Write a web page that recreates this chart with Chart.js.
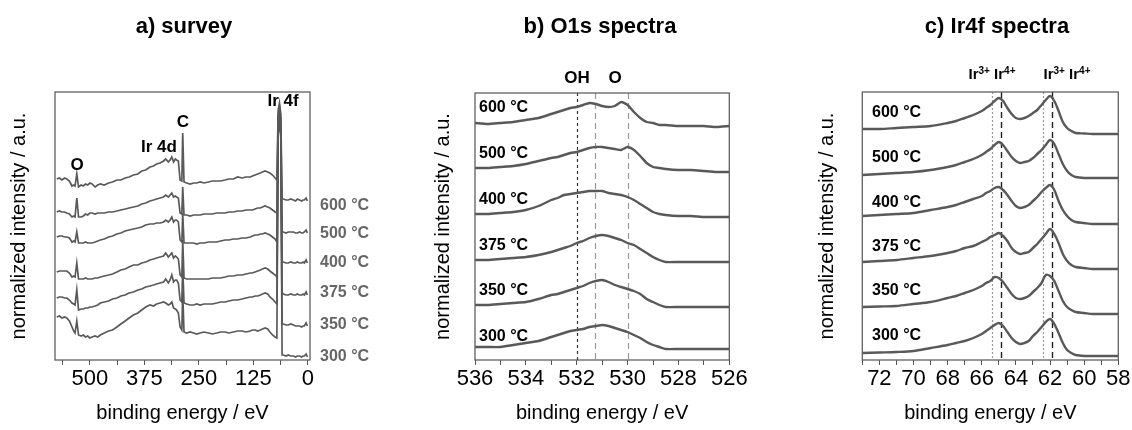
<!DOCTYPE html>
<html>
<head>
<meta charset="utf-8">
<script src="https://cdn.jsdelivr.net/npm/chart.js"></script>
<style>
  html, body { margin: 0; padding: 0; background: #fff; }
  body { width: 1132px; height: 430px; position: relative; overflow: hidden; }
  canvas { position: absolute; top: 0; }
</style>
</head>
<body>
<canvas id="survey" width="380" height="430" style="left:0;width:380px;height:430px"></canvas>
<canvas id="o1s" width="380" height="430" style="left:380px;width:380px;height:430px"></canvas>
<canvas id="ir4f" width="372" height="430" style="left:760px;width:372px;height:430px"></canvas>
<script>
// annealing temperatures, top trace first
const temps = ['600 \u00b0C', '500 \u00b0C', '400 \u00b0C', '375 \u00b0C', '350 \u00b0C', '300 \u00b0C'];

// ---- a) survey (binding energy in eV, stacked intensities in a.u.)
const surveyEnergy = [576, 570, 564, 558, 553, 547, 541, 537, 534, 530, 526, 520, 515, 510, 505, 500, 495, 488, 482, 476,
  467, 457, 448, 438, 429, 419, 410, 400, 390, 381, 372, 362, 354, 347, 339, 331, 326, 320, 316, 312,
  308, 304, 301, 297, 293, 289, 287, 284, 278, 270, 262, 255, 247, 238, 228, 219, 209, 200, 190, 181,
  171, 161, 151, 142, 132, 127, 121, 115, 109, 104, 98, 92, 87, 81, 75, 71, 68, 65, 62, 59,
  56, 50, 45, 39, 33, 28, 24, 19, 14, 11, 8, 4, 1];
const survey600 = [18.1, 18.2, 18.0, 18.2, 18.1, 17.9, 17.4, 17.5, 17.4, 18.6, 17.3, 17.5, 17.4, 17.6, 17.5, 17.7, 17.6, 17.3, 17.5, 17.6,
  17.5, 17.7, 17.8, 18.0, 18.0, 18.2, 18.3, 18.5, 18.6, 18.9, 19.0, 19.3, 19.4, 19.6, 19.7, 19.9, 20.1, 19.8, 20.0, 20.3,
  19.8, 20.1, 20.0, 19.9, 18.0, 17.9, 22.7, 17.8, 17.7, 17.6, 17.7, 17.7, 17.8, 17.7, 17.8, 17.9, 17.9, 17.9, 18.0, 18.1,
  18.1, 18.3, 18.2, 18.3, 18.3, 18.4, 18.5, 18.6, 18.7, 18.8, 18.9, 18.8, 18.7, 18.5, 18.2, 18.0, 25.0, 25.7, 24.6, 16.1,
  16.1, 16.0, 16.0, 16.1, 16.0, 15.9, 16.1, 16.0, 15.9, 16.0, 16.0, 16.2, 15.9];
const survey500 = [14.8, 14.9, 14.8, 14.8, 14.7, 14.6, 14.3, 14.4, 14.3, 16.2, 14.3, 14.3, 14.4, 14.6, 14.5, 14.7, 14.7, 14.6, 14.7, 14.7,
  14.7, 14.8, 14.8, 14.9, 15.0, 15.1, 15.2, 15.3, 15.4, 15.6, 15.7, 15.9, 16.0, 16.1, 16.2, 16.3, 16.5, 16.3, 16.5, 16.7,
  16.3, 16.4, 16.3, 16.2, 14.7, 14.6, 17.3, 14.5, 14.5, 14.4, 14.5, 14.5, 14.5, 14.6, 14.6, 14.6, 14.7, 14.7, 14.7, 14.8,
  14.8, 14.9, 14.9, 15.0, 15.0, 15.0, 15.1, 15.2, 15.2, 15.3, 15.4, 15.3, 15.2, 15.0, 14.8, 14.7, 24.6, 25.3, 24.2, 12.8,
  12.8, 12.7, 12.8, 12.8, 12.8, 12.7, 12.7, 12.8, 12.7, 12.7, 12.8, 13.0, 12.7];
const survey400 = [12.3, 12.4, 12.4, 12.3, 12.3, 12.2, 11.8, 11.9, 11.8, 12.8, 11.7, 11.7, 11.7, 11.8, 11.7, 11.7, 11.7, 11.8, 11.9, 12.0,
  12.1, 12.3, 12.4, 12.6, 12.7, 12.9, 13.0, 13.1, 13.2, 13.3, 13.5, 13.6, 13.6, 13.7, 13.7, 13.8, 14.0, 13.8, 14.0, 14.3,
  13.8, 14.0, 14.0, 13.8, 12.0, 11.8, 14.7, 11.7, 11.7, 11.7, 11.7, 11.6, 11.7, 11.7, 11.8, 11.8, 11.8, 11.9, 12.0, 12.0,
  12.1, 12.1, 12.2, 12.2, 12.3, 12.4, 12.5, 12.5, 12.6, 12.6, 12.7, 12.6, 12.5, 12.3, 12.1, 11.8, 24.2, 25.0, 23.8, 9.8,
  9.8, 9.7, 9.7, 9.8, 9.7, 9.7, 9.8, 9.7, 9.7, 9.8, 9.7, 10.0, 9.7];
const survey375 = [8.8, 8.9, 8.9, 8.9, 8.9, 8.7, 8.3, 8.4, 8.3, 9.7, 8.1, 8.1, 8.1, 8.2, 8.1, 8.1, 8.1, 8.2, 8.2, 8.3,
  8.4, 8.5, 8.6, 8.8, 9.0, 9.1, 9.3, 9.5, 9.5, 9.7, 9.8, 10.0, 10.1, 10.2, 10.3, 10.4, 10.7, 10.3, 10.5, 10.7,
  10.2, 10.4, 10.3, 10.1, 8.5, 8.3, 12.0, 8.2, 8.1, 8.1, 8.1, 8.1, 8.1, 8.1, 8.1, 8.2, 8.2, 8.2, 8.3, 8.4,
  8.4, 8.5, 8.5, 8.6, 8.7, 8.7, 8.8, 8.9, 9.0, 9.1, 9.2, 9.1, 8.9, 8.7, 8.5, 8.3, 23.7, 24.5, 23.3, 6.7,
  6.6, 6.5, 6.5, 6.6, 6.5, 6.5, 6.6, 6.5, 6.5, 6.6, 6.5, 6.8, 6.5];
const survey350 = [6.2, 6.3, 6.3, 6.2, 6.2, 6.0, 5.7, 5.6, 5.5, 7.0, 5.0, 5.1, 5.1, 5.2, 5.2, 5.3, 5.3, 5.4, 5.5, 5.7,
  5.8, 5.9, 6.1, 6.2, 6.4, 6.5, 6.7, 6.8, 7.0, 7.1, 7.3, 7.4, 7.5, 7.6, 7.7, 7.8, 8.1, 7.7, 8.0, 8.5,
  7.8, 8.0, 8.0, 7.7, 6.0, 5.8, 9.3, 5.7, 5.6, 5.5, 5.5, 5.6, 5.5, 5.6, 5.6, 5.6, 5.7, 5.8, 5.8, 5.9,
  6.0, 6.0, 6.1, 6.2, 6.3, 6.3, 6.4, 6.4, 6.5, 6.6, 6.7, 6.6, 6.3, 6.1, 5.8, 5.6, 23.2, 24.0, 22.8, 3.6,
  3.6, 3.5, 3.5, 3.6, 3.5, 3.4, 3.4, 3.4, 3.3, 3.4, 3.4, 3.7, 3.4];
const survey300 = [4.3, 4.4, 4.2, 4.3, 4.2, 3.9, 3.3, 2.9, 2.7, 3.9, 2.5, 2.4, 2.5, 2.3, 2.4, 2.2, 2.3, 2.4, 2.3, 2.5,
  2.7, 2.9, 3.0, 3.3, 3.6, 3.9, 4.2, 4.5, 4.7, 5.0, 5.3, 5.5, 5.4, 5.6, 5.7, 5.8, 5.7, 5.5, 5.6, 5.8,
  5.2, 5.1, 5.0, 4.7, 3.3, 3.0, 6.7, 2.8, 2.7, 2.8, 2.7, 2.6, 2.7, 2.8, 2.7, 2.6, 2.7, 2.8, 2.8, 2.7,
  2.8, 2.9, 2.9, 2.8, 2.9, 3.0, 3.0, 2.9, 3.0, 3.1, 3.2, 3.1, 2.8, 2.5, 2.3, 2.2, 22.7, 23.5, 22.3, 0.5,
  0.5, 0.4, 0.5, 0.4, 0.4, 0.3, 0.4, 0.4, 0.3, 0.4, 0.4, 0.6, 0.3];
const surveyTicks = [0, 62.5, 125, 187.5, 250, 312.5, 375, 437.5, 500, 562.5];
const surveyTickLabels = [0, 125, 250, 375, 500];

// ---- b) O1s
const o1sEnergy = [536, 535.5, 535, 534.5, 534, 533.5, 533, 532.75, 532.5, 532.25, 532, 531.75, 531.5, 531.25, 531,
  530.75, 530.5, 530.25, 530, 529.75, 529.5, 529.25, 529, 528.75, 528.5, 528, 527.5, 527, 526.5, 526];
const o1s600 = [23.7, 23.6, 23.7, 23.8, 24.0, 24.2, 24.6, 24.8, 25.0, 25.2, 25.3, 25.5, 25.7, 25.6, 25.4,
  25.3, 25.4, 25.8, 25.5, 24.8, 24.2, 23.8, 23.7, 23.5, 23.5, 23.4, 23.4, 23.4, 23.3, 23.4];
const o1s500 = [19.2, 19.2, 19.3, 19.4, 19.6, 19.9, 20.2, 20.3, 20.5, 20.7, 20.8, 21.0, 21.2, 21.3, 21.3,
  21.2, 21.1, 21.0, 21.3, 21.0, 20.4, 19.7, 19.3, 19.2, 19.1, 19.0, 19.0, 18.9, 18.8, 18.8];
const o1s400 = [14.6, 14.6, 14.7, 14.8, 15.0, 15.4, 16.0, 16.2, 16.5, 16.6, 16.7, 16.8, 16.9, 16.9, 16.9,
  16.7, 16.6, 16.5, 16.3, 16.0, 15.6, 15.2, 14.8, 14.6, 14.5, 14.4, 14.4, 14.3, 14.3, 14.3];
const o1s375 = [10.0, 10.0, 10.1, 10.2, 10.3, 10.5, 10.8, 11.0, 11.2, 11.4, 11.7, 11.9, 12.2, 12.4, 12.5,
  12.4, 12.2, 12.0, 11.7, 11.5, 11.1, 10.7, 10.3, 10.0, 9.8, 9.8, 9.8, 9.8, 9.8, 9.8];
const o1s350 = [5.5, 5.5, 5.6, 5.7, 5.8, 6.1, 6.5, 6.6, 6.8, 7.0, 7.2, 7.4, 7.7, 7.9, 8.0,
  7.8, 7.5, 7.3, 7.1, 6.9, 6.6, 6.1, 5.8, 5.5, 5.3, 5.3, 5.3, 5.3, 5.3, 5.3];
const o1s300 = [1.3, 1.3, 1.3, 1.5, 1.7, 1.9, 2.3, 2.5, 2.7, 2.9, 3.0, 3.1, 3.3, 3.4, 3.5,
  3.4, 3.2, 3.0, 2.8, 2.5, 2.2, 1.8, 1.5, 1.3, 1.1, 1.1, 1.1, 1.1, 1.1, 1.1];
const o1sTicks = [526, 527, 528, 529, 530, 531, 532, 533, 534, 535, 536];
const o1sTickLabels = [526, 528, 530, 532, 534, 536];
const o1sRefs = [532, 531.3, 530];   // OH, OH, O

// ---- c) Ir4f
const irEnergy = [73, 72, 71, 70, 69, 68, 67.5, 67, 66.5, 66, 65.75, 65.5, 65.25, 65, 64.75, 64.5, 64.25, 64, 63.75,
  63.5, 63.25, 63, 62.75, 62.5, 62.25, 62, 61.75, 61.5, 61.25, 61, 60.75, 60.5, 60, 59.5, 59, 58.5, 58];
const ir600 = [23.1, 23.1, 23.2, 23.3, 23.4, 23.7, 23.9, 24.2, 24.5, 24.9, 25.2, 25.5, 25.9, 26.2, 25.9, 25.2, 24.6, 24.2, 24.1,
  24.2, 24.4, 24.7, 25.0, 25.5, 26.0, 26.4, 25.9, 24.9, 23.8, 23.2, 22.9, 22.7, 22.65, 22.6, 22.6, 22.6, 22.6];
const ir500 = [18.5, 18.6, 18.7, 18.8, 19.0, 19.3, 19.5, 19.8, 20.1, 20.5, 20.8, 21.1, 21.5, 21.8, 21.5, 20.9, 20.3, 19.9, 19.7,
  19.8, 19.9, 20.2, 20.6, 21.0, 21.5, 22.0, 21.6, 20.6, 19.6, 18.9, 18.5, 18.3, 18.2, 18.2, 18.2, 18.2, 18.2];
const ir400 = [14.4, 14.5, 14.6, 14.7, 15.0, 15.3, 15.5, 15.8, 16.1, 16.4, 16.7, 16.9, 17.2, 17.3, 17.0, 16.5, 15.9, 15.4, 15.2,
  15.3, 15.5, 15.9, 16.3, 16.8, 17.2, 17.5, 17.0, 15.9, 15.0, 14.4, 14.0, 13.8, 13.7, 13.6, 13.6, 13.6, 13.6];
const ir375 = [9.8, 9.9, 10.0, 10.2, 10.4, 10.7, 10.9, 11.2, 11.4, 11.8, 12.0, 12.3, 12.5, 12.7, 12.4, 11.9, 11.2, 10.8, 10.6,
  10.7, 10.8, 11.2, 11.6, 12.1, 12.6, 13.1, 12.6, 11.7, 10.6, 9.9, 9.5, 9.3, 9.2, 9.1, 9.1, 9.1, 9.1];
const ir350 = [5.3, 5.35, 5.4, 5.6, 5.8, 6.2, 6.4, 6.7, 7.0, 7.4, 7.7, 7.9, 8.3, 8.2, 7.8, 7.2, 6.6, 6.2, 6.1,
  6.2, 6.4, 6.8, 7.2, 7.7, 8.5, 8.4, 7.9, 6.9, 5.9, 5.3, 5.0, 4.8, 4.7, 4.6, 4.6, 4.6, 4.6];
const ir300 = [0.7, 0.75, 0.8, 0.9, 1.2, 1.5, 1.7, 1.9, 2.2, 2.6, 2.9, 3.2, 3.5, 3.7, 3.4, 2.8, 2.2, 1.8, 1.6,
  1.7, 1.9, 2.4, 2.8, 3.3, 3.8, 4.1, 3.6, 2.7, 1.7, 1.0, 0.7, 0.5, 0.4, 0.4, 0.4, 0.4, 0.4];
const irTicks = [58, 59, 60, 61, 62, 63, 64, 65, 66, 67, 68, 69, 70, 71, 72, 73];
const irTickLabels = [58, 60, 62, 64, 66, 68, 70, 72];
const irRefs3 = [65.4, 62.4];   // Ir3+
const irRefs4 = [64.9, 61.9];   // Ir4+

const F = "'Liberation Sans', Arial, sans-serif";
Chart.defaults.font.family = F;
Chart.defaults.color = '#000';

const LINE = '#595959';

// frame, reference lines and free text
const decor = {
  id: 'decor',
  beforeDatasetsDraw(chart, args, opts) {
    const { ctx, chartArea: a, scales: { x } } = chart;
    ctx.save();
    (opts.lines || []).forEach(l => {
      const px = Math.round(x.getPixelForValue(l.value)) + 0.5;
      ctx.strokeStyle = l.color;
      ctx.lineWidth = l.width;
      ctx.setLineDash(l.dash);
      ctx.beginPath();
      ctx.moveTo(px, a.top);
      ctx.lineTo(px, a.bottom);
      ctx.stroke();
    });
    ctx.restore();
  },
  afterDatasetsDraw(chart, args, opts) {
    const { ctx, chartArea: a } = chart;
    ctx.save();
    ctx.strokeStyle = '#606060';
    ctx.lineWidth = 1.3;
    ctx.strokeRect(a.left, a.top, a.right - a.left, a.bottom - a.top);
    ctx.textBaseline = 'middle';
    (opts.texts || []).forEach(t => {
      ctx.fillStyle = t.color || '#000';
      ctx.font = t.font;
      ctx.textAlign = t.align || 'center';
      ctx.fillText(t.text, t.x, t.y);
    });
    // labels with superscript charges
    (opts.sups || []).forEach(s => {
      const big = 'bold 15px ' + F;
      const small = 'bold 10px ' + F;
      let w = 0;
      s.parts.forEach(p => { ctx.font = p.sup ? small : big; w += ctx.measureText(p.t).width; });
      let cx = s.x - w / 2;
      ctx.fillStyle = '#000';
      ctx.textAlign = 'left';
      s.parts.forEach(p => {
        ctx.font = p.sup ? small : big;
        ctx.fillText(p.t, cx, p.sup ? s.y - 4 : s.y);
        cx += ctx.measureText(p.t).width;
      });
    });
    ctx.restore();
  }
};

function stack(energy, series) {
  return series.map(ys => ({
    data: ys.map((y, i) => ({ x: energy[i], y })),
    borderColor: LINE,
    pointRadius: 0,
    fill: false
  }));
}

function panel(id, p) {
  const datasets = stack(p.energy, p.series);
  datasets.forEach(d => { d.borderWidth = p.lineWidth; d.tension = p.tension; });
  return new Chart(document.getElementById(id), {
    type: 'line',
    data: { datasets },
    plugins: [decor],
    options: {
      responsive: false,
      animation: false,
      devicePixelRatio: 1,
      layout: { padding: { top: p.top, right: p.right, left: 0, bottom: 0 } },
      plugins: {
        legend: { display: false },
        tooltip: { enabled: false },
        decor: { lines: p.lines, texts: p.texts, sups: p.sups }
      },
      scales: {
        x: {
          type: 'linear',
          reverse: true,
          min: p.min,
          max: p.max,
          afterBuildTicks: s => { s.ticks = p.ticks.map(v => ({ value: v })); },
          afterFit: s => { s.height = 70; },
          ticks: {
            autoSkip: false,
            maxRotation: 0,
            padding: 1,
            font: { size: 22 },
            color: '#000',
            callback: v => (p.tickLabels.includes(v) ? String(v) : '')
          },
          grid: { display: true, drawOnChartArea: false, drawTicks: true, tickLength: 5, color: '#555' },
          border: { display: false },
          title: { display: true, text: 'binding energy / eV', font: { size: 20 }, color: '#000', padding: { top: 0, bottom: 5 } }
        },
        y: {
          min: 0,
          max: p.ymax,
          afterFit: s => { s.width = p.left; },
          ticks: { display: false },
          grid: { display: false },
          border: { display: false },
          title: { display: true, text: 'normalized intensity / a.u.', font: { size: 20 }, color: '#000', padding: { top: p.titlePad, bottom: 0 } }
        }
      }
    }
  });
}

const tempFont = 'bold 16px ' + F;
const peakFont = 'bold 17px ' + F;
const headFont = 'bold 22px ' + F;

panel('survey', {
  energy: surveyEnergy,
  series: [survey600, survey500, survey400, survey375, survey350, survey300],
  min: -5, max: 580, ymax: 26.8,
  ticks: surveyTicks, tickLabels: surveyTickLabels,
  left: 55, right: 70, top: 92, titlePad: 7,
  lineWidth: 1.7, tension: 0,
  lines: [],
  texts: [
    { text: 'a) survey', x: 184, y: 27, font: headFont },
    { text: 'O', x: 77, y: 165, font: peakFont },
    { text: 'Ir 4d', x: 159, y: 147, font: peakFont },
    { text: 'C', x: 183, y: 122, font: peakFont },
    { text: 'Ir 4f', x: 283, y: 101, font: peakFont }
  ].concat(temps.map((t, i) => ({ text: t, x: 320, y: [206, 234, 263, 293, 325, 357][i], font: tempFont, color: '#666', align: 'left' })))
});

panel('o1s', {
  energy: o1sEnergy,
  series: [o1s600, o1s500, o1s400, o1s375, o1s350, o1s300],
  min: 526, max: 536, ymax: 26.7,
  ticks: o1sTicks, tickLabels: o1sTickLabels,
  left: 95, right: 30.7, top: 93, titlePad: 51,
  lineWidth: 2.4, tension: 0.2,
  lines: [
    { value: o1sRefs[0], color: '#333', width: 1.2, dash: [3, 3] },
    { value: o1sRefs[1], color: '#999', width: 1.2, dash: [6, 4] },
    { value: o1sRefs[2], color: '#999', width: 1.2, dash: [6, 4] }
  ],
  texts: [
    { text: 'b) O1s spectra', x: 220, y: 27, font: headFont },
    { text: 'OH', x: 197, y: 78, font: peakFont },
    { text: 'O', x: 235, y: 78, font: peakFont }
  ].concat(temps.map((t, i) => ({ text: t, x: 99, y: [108, 154, 200, 246, 291, 337][i], font: tempFont, align: 'left' })))
});

panel('ir4f', {
  energy: irEnergy,
  series: [ir600, ir500, ir400, ir375, ir350, ir300],
  min: 58, max: 73, ymax: 26.8,
  ticks: irTicks, tickLabels: irTickLabels,
  left: 102.3, right: 13.7, top: 92, titlePad: 55,
  lineWidth: 2.4, tension: 0.3,
  lines: [
    { value: irRefs3[0], color: '#999', width: 1.2, dash: [2, 2] },
    { value: irRefs3[1], color: '#999', width: 1.2, dash: [2, 2] },
    { value: irRefs4[0], color: '#222', width: 1.4, dash: [6, 4] },
    { value: irRefs4[1], color: '#222', width: 1.4, dash: [6, 4] }
  ],
  texts: [
    { text: 'c) Ir4f spectra', x: 237, y: 27, font: headFont }
  ].concat(temps.map((t, i) => ({ text: t, x: 112, y: [113, 158, 203, 247, 291, 336][i], font: tempFont, align: 'left' }))),
  sups: [
    { x: 232, y: 75, parts: [{ t: 'Ir' }, { t: '3+', sup: true }, { t: ' Ir' }, { t: '4+', sup: true }] },
    { x: 307, y: 75, parts: [{ t: 'Ir' }, { t: '3+', sup: true }, { t: ' Ir' }, { t: '4+', sup: true }] }
  ]
});
</script>
</body>
</html>
